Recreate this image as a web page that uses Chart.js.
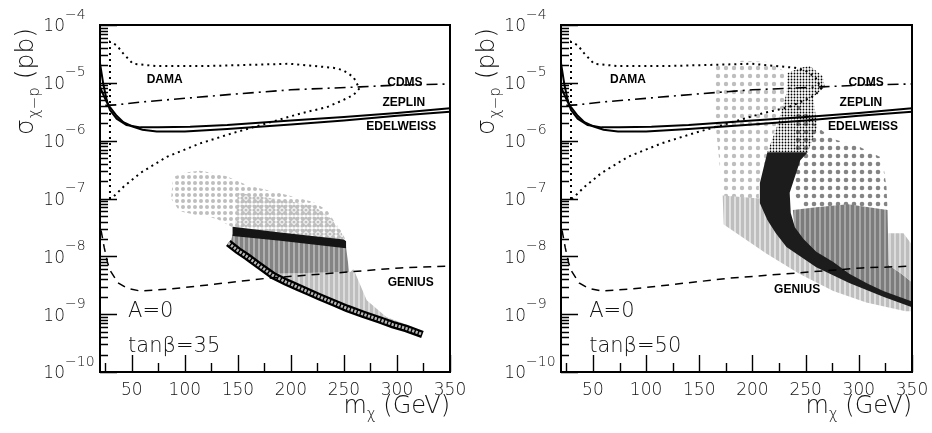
<!DOCTYPE html>
<html>
<head>
<meta charset="utf-8">
<script src="https://cdn.jsdelivr.net/npm/chart.js@4.4.1/dist/chart.umd.min.js"></script>
<style>
  body { margin: 0; background: #fff; }
  #wrap { display: flex; width: 932px; height: 433px; }
  canvas { display: block; }
</style>
</head>
<body>
<div id="wrap">
  <canvas id="c35" width="466" height="433"></canvas>
  <canvas id="c50" width="466" height="433"></canvas>
</div>
<script>
// axis ticks
const yDecades = [-4, -5, -6, -7, -8, -9, -10];
const yMinorMult = [2, 3, 4, 5, 6, 7, 8, 9];
const xMajor = [50, 100, 150, 200, 250, 300, 350];
const xMinor = [25, 75, 125, 175, 225, 275, 325];

// experimental limits, [m_chi (GeV), log10(sigma/pb)]
const dama = [[29.4,-7.01],[29.4,-4.29],[35.7,-4.35],[41.8,-4.49],[51,-4.67],[73,-4.71],[120,-4.71],[199,-4.67],
  [240,-4.74],[249,-4.78],[259,-4.9],[263,-5.04],[265,-5.09],[259,-5.21],[249,-5.3],[234,-5.42],[209,-5.53],
  [177,-5.7],[145,-5.87],[114,-6.05],[83,-6.28],[58,-6.56],[42,-6.8],[32,-6.98],[29.4,-7.01]];
const cdms = [[25,-5.39],[36,-5.38],[60,-5.33],[105,-5.26],[150,-5.19],[200,-5.12],[265,-5.07],[300,-5.04],[350,-5.02]];
const zeplin = [[20,-4.66],[23,-5.01],[26.3,-5.3],[29.4,-5.47],[35.7,-5.62],[45,-5.73],[58,-5.77],[75,-5.77],
  [105,-5.76],[140,-5.73],[200,-5.65],[250,-5.59],[300,-5.52],[350,-5.44]];
const edelweiss = [[20,-5.07],[23,-5.2],[26.3,-5.33],[29.4,-5.42],[35.7,-5.57],[42,-5.68],[50,-5.75],[60,-5.81],
  [73.5,-5.84],[100,-5.84],[140,-5.8],[200,-5.72],[250,-5.65],[300,-5.57],[350,-5.5]];
const genius = [[21,-7.55],[24,-7.85],[27,-8.1],[29.4,-8.24],[37,-8.46],[45.5,-8.55],[58,-8.6],[83,-8.57],
  [114,-8.51],[177,-8.38],[240,-8.29],[303,-8.2],[350,-8.17]];

// tan(beta)=35 scan regions
const light35Upper = [[89,-6.63],[100,-6.55],[114,-6.52],[127,-6.56],[140,-6.62],[159,-6.77],[190,-6.91],[221,-7.06],
  [234,-7.2],[240,-7.37],[249,-7.6],[252,-7.75],[190,-7.62],[147,-7.52],[130,-7.35],[110,-7.28],[95,-7.22],[87,-7.0]];
const light35Cols = [[150,-6.9],[190,-7.02],[221,-7.12],[238,-7.35],[248,-7.6],[250,-7.72],[190,-7.6],[147,-7.5]];
const light35Lower = [[183,-8.3],[256,-8.27],[259,-8.22],[271.5,-8.76],[290,-9.05],[315,-9.22],[325,-9.31],[309,-9.25],
  [284,-9.1],[253,-8.9],[227,-8.7],[206,-8.53],[183,-8.33]];
const gray35 = [[145,-7.62],[190,-7.7],[252,-7.84],[255,-8.27],[183,-8.3],[165,-8.08],[150,-7.9],[143,-7.78]];
const black35 = [[145,-7.49],[190,-7.59],[250,-7.71],[252,-7.74],[252,-7.86],[190,-7.73],[145,-7.65]];
const circles35 = [[141,-7.77],[150,-7.9],[159,-8.01],[170,-8.16],[183,-8.33],[195,-8.44],[206,-8.53],[217,-8.62],
  [227,-8.7],[240,-8.8],[253,-8.9],[268,-9.0],[284,-9.1],[296,-9.18],[309,-9.25],[324,-9.35]];

// tan(beta)=50 scan regions
const light50Sparse = [[163,-4.72],[190,-4.62],[215,-4.64],[230,-4.8],[232,-5.2],[222,-5.76],[213,-6.3],[206,-6.75],
  [206,-7.0],[172,-7.0],[168,-6.2],[163,-5.3]];
const light50Dense = [[172,-6.95],[207,-7.0],[214,-7.37],[229,-7.67],[261,-7.94],[292,-8.2],[323,-8.41],[350,-8.6],
  [350,-8.95],[344,-8.95],[307,-8.8],[276,-8.6],[244,-8.3],[213,-7.95],[173,-7.45]];
const light50Right = [[328,-7.6],[342,-7.6],[350,-7.8],[350,-8.45],[340,-8.3],[328,-8.15]];
const gray50Sparse = [[242,-5.3],[260,-5.75],[276,-5.97],[300,-6.1],[322,-6.3],[326,-6.8],[327,-7.2],[290,-7.2],
  [250,-7.2],[238,-6.9],[240,-6.4]];
const gray50Dense = [[238,-7.2],[260,-7.15],[290,-7.1],[327,-7.2],[328,-8.15],[340,-8.3],[350,-8.45],[350,-8.8],
  [323,-8.62],[291,-8.38],[260,-8.1],[240,-7.6]];
const black50Upper = [[233,-4.83],[245,-4.74],[254,-4.71],[266,-4.88],[268,-5.07],[257,-5.25],[261,-5.76],[252,-6.2],
  [214,-6.2],[223,-5.76],[232,-5.18]];
const black50Lower = [[214,-6.2],[252,-6.2],[245,-6.34],[235,-6.9],[236,-7.25],[240,-7.5],[248,-7.7],[260,-7.92],
  [276,-8.1],[291,-8.3],[308,-8.47],[323,-8.6],[350,-8.78],[350,-8.88],[323,-8.7],[291,-8.46],[260,-8.19],
  [232,-7.84],[222,-7.6],[214,-7.37],[207,-7.08],[207,-6.73]];

// text labels [text, m, log10 sigma]
const expLabels35 = [['DAMA',81,-4.95],['CDMS',307.5,-5.0],['ZEPLIN',306.5,-5.35],['EDELWEISS',304,-5.76],['GENIUS',313,-8.45]];
const expLabels50 = [['DAMA',83,-4.95],['CDMS',306.8,-5.0],['ZEPLIN',302,-5.35],['EDELWEISS',304,-5.76],['GENIUS',242,-8.58]];

const FONT = '"DejaVu Sans", sans-serif';

function dots(step, r, color) {
  const c = document.createElement('canvas');
  c.width = c.height = step;
  const g = c.getContext('2d');
  g.fillStyle = color;
  g.beginPath();
  g.arc(step / 2, step / 2, r, 0, Math.PI * 2);
  g.fill();
  return g.createPattern(c, 'repeat');
}
function stripes(w1, c1, w2, c2) {
  const c = document.createElement('canvas');
  c.width = w1 + w2; c.height = 4;
  const g = c.getContext('2d');
  g.fillStyle = c1; g.fillRect(0, 0, w1, 4);
  g.fillStyle = c2; g.fillRect(w1, 0, w2, 4);
  return g.createPattern(c, 'repeat');
}

const pts = arr => arr.map(([m, e]) => ({ x: m, y: Math.pow(10, e) }));
function area(arr, fill) {
  return { data: pts(arr), fill: 'shape', backgroundColor: fill, borderColor: 'rgba(0,0,0,0)',
    borderWidth: 0, pointRadius: 0, tension: 0 };
}
function curve(arr, width, dash, color) {
  return { data: pts(arr), fill: false, borderColor: color || '#000', borderWidth: width,
    borderDash: dash, pointRadius: 0, tension: 0 };
}
function limitCurves() {
  return [
    curve(genius, 1.5, [8, 6]),
    curve(dama, 2, [2, 4]),
    curve(cdms, 1.6, [11, 5, 2, 5]),
    curve(zeplin, 2, []),
    curve(edelweiss, 2, [])
  ];
}

const framePlugin = {
  id: 'frame',
  afterDraw(chart, args, o) {
    const { ctx, chartArea: a, scales: { x, y } } = chart;
    ctx.save();
    ctx.strokeStyle = '#000';
    ctx.fillStyle = '#000';
    ctx.lineWidth = 1.4;
    ctx.beginPath();
    yDecades.forEach(e => {
      const py = Math.round(y.getPixelForValue(Math.pow(10, e))) + 0.5;
      ctx.moveTo(a.left, py); ctx.lineTo(a.left + 17, py);
      if (e < -4) yMinorMult.forEach(k => {
        const pm = Math.round(y.getPixelForValue(k * Math.pow(10, e))) + 0.5;
        ctx.moveTo(a.left, pm); ctx.lineTo(a.left + 8, pm);
      });
    });
    xMajor.forEach(v => {
      const px = Math.round(x.getPixelForValue(v)) + 0.5;
      ctx.moveTo(px, a.bottom); ctx.lineTo(px, a.bottom - 17);
    });
    xMinor.forEach(v => {
      const px = Math.round(x.getPixelForValue(v)) + 0.5;
      ctx.moveTo(px, a.bottom); ctx.lineTo(px, a.bottom - 9);
    });
    ctx.stroke();
    ctx.lineWidth = 2;
    ctx.strokeRect(a.left, a.top, a.right - a.left, a.bottom - a.top);

    // y tick labels 10^e
    ctx.fillStyle = '#111';
    yDecades.forEach(e => {
      const py = y.getPixelForValue(Math.pow(10, e));
      ctx.textBaseline = 'middle';
      ctx.textAlign = 'right';
      ctx.font = `200 17px ${FONT}`;
      ctx.fillText('10', a.left - 35, py + 2);
      ctx.textAlign = 'left';
      ctx.font = `200 14px ${FONT}`;
      ctx.fillText('\u2212' + (-e), a.left - 35, py - 10);
    });
    // x tick labels
    ctx.textAlign = 'center';
    ctx.textBaseline = 'middle';
    ctx.font = `200 17px ${FONT}`;
    xMajor.forEach(v => ctx.fillText(String(v), x.getPixelForValue(v), a.bottom + 19));

    // x title: m_chi (GeV)
    ctx.textBaseline = 'alphabetic';
    ctx.textAlign = 'left';
    ctx.font = `200 24px ${FONT}`;
    const wm = ctx.measureText('m').width;
    const wg = ctx.measureText(' (GeV)').width;
    ctx.font = `200 15px ${FONT}`;
    const wc = ctx.measureText('\u03c7').width;
    const tx = a.right - wm - wc - wg;
    ctx.font = `200 24px ${FONT}`;
    ctx.fillText('m', tx, a.bottom + 41);
    ctx.font = `200 15px ${FONT}`;
    ctx.fillText('\u03c7', tx + wm, a.bottom + 47);
    ctx.font = `200 24px ${FONT}`;
    ctx.fillText(' (GeV)', tx + wm + wc, a.bottom + 41);

    // y title: sigma_{chi-p} (pb), rotated
    ctx.save();
    ctx.translate(a.left - 67, a.top + 110);
    ctx.rotate(-Math.PI / 2);
    ctx.font = `200 25px ${FONT}`;
    ctx.fillText('\u03c3', 0, 0);
    const ws = ctx.measureText('\u03c3').width;
    ctx.font = `200 15px ${FONT}`;
    ctx.fillText('\u03c7\u2212p', ws + 1, 6);
    const wsub = ctx.measureText('\u03c7\u2212p').width;
    ctx.font = `200 25px ${FONT}`;
    ctx.fillText(' (pb)', ws + wsub + 1, 0);
    ctx.restore();

    // experiment labels
    ctx.fillStyle = '#000';
    ctx.font = `bold 12px "Liberation Sans", Arial, sans-serif`;
    ctx.textAlign = 'center';
    ctx.textBaseline = 'middle';
    o.labels.forEach(([t, m, e]) => ctx.fillText(t, x.getPixelForValue(m), y.getPixelForValue(Math.pow(10, e))));

    // panel text
    ctx.fillStyle = '#111';
    ctx.textAlign = 'left';
    ctx.textBaseline = 'alphabetic';
    ctx.font = `200 21px ${FONT}`;
    const px = x.getPixelForValue(46.5);
    ctx.fillText('A=0', px, y.getPixelForValue(Math.pow(10, -9.05)));
    ctx.fillText('tan\u03b2=' + o.tanb, px, y.getPixelForValue(Math.pow(10, -9.66)));
    ctx.restore();
  }
};

function makePanel(id, shapes, labels, tanb, padLeft, padRight) {
  const datasets = limitCurves().concat(shapes.slice().reverse());
  datasets.forEach((d, i) => { d.order = i; });
  return new Chart(document.getElementById(id), {
    type: 'line',
    data: { datasets },
    options: {
      responsive: false,
      animation: false,
      events: [],
      layout: { padding: { left: padLeft, right: padRight, top: 25, bottom: 61 } },
      scales: {
        x: { type: 'linear', min: 20, max: 350, display: false },
        y: { type: 'logarithmic', min: 1e-10, max: 1e-4, display: false }
      },
      plugins: {
        legend: { display: false },
        tooltip: { enabled: false },
        frame: { labels, tanb }
      }
    },
    plugins: [framePlugin]
  });
}

const LIGHT = '#bebebe';
const GRAY = '#848484';

// back to front
const shapes35 = [
  area(light35Upper, dots(6, 2, LIGHT)),
  area(light35Cols, dots(4, 1.6, LIGHT)),
  area(light35Lower, stripes(3, LIGHT, 2, '#dcdcdc')),
  area(gray35, stripes(3, GRAY, 2, '#b0b0b0')),
  area(black35, '#151515'),
  curve(circles35, 7.5, []),
  curve(circles35, 3, [2.2, 1.4], '#b8b8b8')
];
const shapes50 = [
  area(light50Sparse, dots(8, 2.2, LIGHT)),
  area(gray50Sparse, dots(8, 2.3, GRAY)),
  area(light50Dense, stripes(3, LIGHT, 2, '#e0e0e0')),
  area(gray50Dense, stripes(3, '#7c7c7c', 2, '#a6a6a6')),
  area(light50Right, stripes(3, LIGHT, 2, '#dcdcdc')),
  area(black50Upper, dots(3, 0.9, '#000')),
  area(black50Lower, '#1c1c1c')
];

makePanel('c35', shapes35, expLabels35, 35, 100, 16);
makePanel('c50', shapes50, expLabels50, 50, 95, 20);
</script>
</body>
</html>
